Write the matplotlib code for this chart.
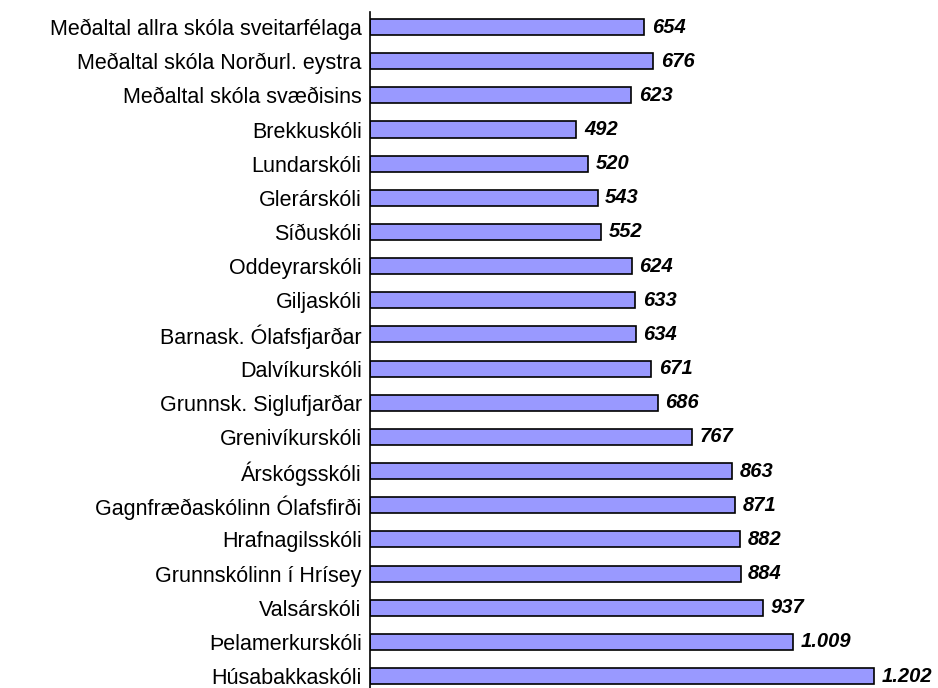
import matplotlib.pyplot as plt
import numpy as np

plt.rcParams['font.family'] = ['Liberation Sans', 'DejaVu Sans']

schools = [
    "Meðaltal allra skóla sveitarfélaga",
    "Meðaltal skóla Norðurl. eystra",
    "Meðaltal skóla svæðisins",
    "Brekkuskóli",
    "Lundarskóli",
    "Glerárskóli",
    "Síðuskóli",
    "Oddeyrarskóli",
    "Giljaskóli",
    "Barnask. Ólafsfjarðar",
    "Dalvíkurskóli",
    "Grunnsk. Siglufjarðar",
    "Grenivíkurskóli",
    "Árskógsskóli",
    "Gagnfræðaskólinn Ólafsfirði",
    "Hrafnagilsskóli",
    "Grunnskólinn í Hrísey",
    "Valsárskóli",
    "Þelamerkurskóli",
    "Húsabakkaskóli",
]
values = [654, 676, 623, 492, 520, 543, 552, 624, 633, 634,
          671, 686, 767, 863, 871, 882, 884, 937, 1009, 1202]


def fmt(v):
    # Icelandic thousands separator is a dot
    return f"{v:,}".replace(",", ".")


W, H = 938, 688
fig = plt.figure(figsize=(W / 100, H / 100), dpi=100)
ax = fig.add_axes([370 / W, 0, 1 - 370 / W, (688 - 12) / H])

y = np.arange(len(schools))
ax.barh(y, values, height=0.47, color="#9999FF", edgecolor="black", linewidth=1.2)

for yi, v in zip(y, values):
    ax.text(v + 18, yi, fmt(v), va="center", ha="left",
            fontsize=14.5, fontweight="bold", fontstyle="italic")

ax.set_yticks(y)
ax.set_yticklabels(schools, fontsize=15.5)
ax.tick_params(axis="y", length=0, pad=6)
ax.set_xticks([])
ax.set_xlim(0, (W - 370) / 0.4193)
ax.set_ylim(19.35, -0.44)

for side in ["top", "right", "bottom"]:
    ax.spines[side].set_visible(False)
ax.spines["left"].set_linewidth(1.2)

fig.savefig("out.png", dpi=100)
